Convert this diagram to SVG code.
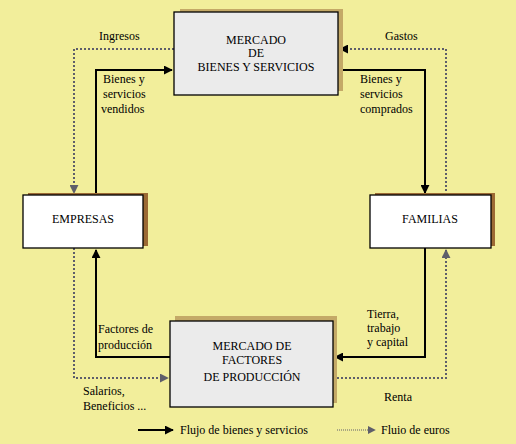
<svg xmlns="http://www.w3.org/2000/svg" width="516" height="444" viewBox="0 0 516 444" font-family="'Liberation Serif', 'Times New Roman', Times, serif">
<defs>
<style>
text{font-size:12px;fill:#000}
.c{text-anchor:middle}
.box{fill:#EBEBEB;stroke:#000;stroke-width:1.3}
.wbox{fill:#FFFFFF;stroke:#000;stroke-width:1.3}
.tan{fill:#C4A967}
.brown{fill:#9C6A34}
.solid{fill:none;stroke:#000;stroke-width:2}
.dot{fill:none;stroke:#5E5E6A;stroke-width:2;stroke-dasharray:2 2;shape-rendering:crispEdges}
</style>
<marker id="ab" viewBox="0 0 10 10" refX="9" refY="5" markerWidth="4.5" markerHeight="4.5" markerUnits="strokeWidth" orient="auto"><path d="M0,0L10,5L0,10z" fill="#000"/></marker>
<marker id="ag" viewBox="0 0 10 10" refX="9" refY="5" markerWidth="4.5" markerHeight="4.5" markerUnits="strokeWidth" orient="auto"><path d="M0,0L10,5L0,10z" fill="#5E5E6A"/></marker>
<marker id="agl" viewBox="0 0 10 10" refX="9" refY="5" markerWidth="8" markerHeight="8" markerUnits="strokeWidth" orient="auto"><path d="M0,0L10,5L0,10z" fill="#5E5E6A"/></marker>
</defs>
<rect width="516" height="444" fill="#F2EE9B"/>
<g id="connectors">
<polyline class="solid" points="96,195 96,70 172,70" marker-end="url(#ab)"/>
<polyline class="solid" points="338,70 425,70 425,193" marker-end="url(#ab)"/>
<polyline class="solid" points="425,248 425,357 335,357" marker-end="url(#ab)"/>
<polyline class="solid" points="170,357 96,357 96,250" marker-end="url(#ab)"/>
<polyline class="dot" points="174,49 74,49 74,193" marker-end="url(#ag)"/>
<polyline class="dot" points="74,248 74,378 168,378" marker-end="url(#ag)"/>
<polyline class="dot" points="333,378 446,378 446,250" marker-end="url(#ag)"/>
<polyline class="dot" points="446,195 446,49 340,49" marker-end="url(#ab)"/>
</g>
<g id="mercado-bienes">
<rect class="tan" x="180" y="9" width="163" height="82"/>
<rect class="box" x="174" y="12" width="164" height="83"/>
<text class="c" x="256" y="44">MERCADO</text>
<text class="c" x="256" y="57">DE</text>
<text class="c" x="256" y="71">BIENES Y SERVICIOS</text>
</g>
<g id="empresas">
<rect class="brown" x="28" y="193" width="120" height="53"/>
<rect class="wbox" x="23" y="195" width="120" height="53"/>
<text class="c" x="83" y="223">EMPRESAS</text>
</g>
<g id="familias">
<rect class="brown" x="375" y="193" width="120" height="53"/>
<rect class="wbox" x="370" y="195" width="121" height="53"/>
<text class="c" x="430" y="223">FAMILIAS</text>
</g>
<g id="mercado-factores">
<rect class="tan" x="175" y="316" width="162" height="87"/>
<rect class="box" x="170" y="321" width="163" height="86"/>
<text class="c" x="252" y="350">MERCADO DE</text>
<text class="c" x="252" y="364">FACTORES</text>
<text class="c" x="252" y="381">DE PRODUCCIÓN</text>
</g>
<g id="labels">
<text x="99" y="40">Ingresos</text>
<text x="385" y="40">Gastos</text>
<text x="103" y="83">Bienes y</text>
<text x="103" y="98">servicios</text>
<text x="101" y="113">vendidos</text>
<text x="360" y="83">Bienes y</text>
<text x="360" y="98">servicios</text>
<text x="360" y="113">comprados</text>
<text x="98" y="333">Factores de</text>
<text x="98" y="349">producción</text>
<text x="367" y="318">Tierra,</text>
<text x="367" y="332">trabajo</text>
<text x="367" y="346">y capital</text>
<text x="83" y="395">Salarios,</text>
<text x="83" y="410">Beneficios ...</text>
<text x="384" y="401">Renta</text>
</g>
<g id="legend">
<line class="solid" x1="138" y1="430" x2="173" y2="430" marker-end="url(#ab)"/>
<text x="180" y="434">Flujo de bienes y servicios</text>
<line x1="337" y1="430" x2="375" y2="430" stroke="#5E5E6A" stroke-width="1" stroke-dasharray="1 1" marker-end="url(#agl)"/>
<text x="381" y="434">Fluio de euros</text>
</g>
</svg>
